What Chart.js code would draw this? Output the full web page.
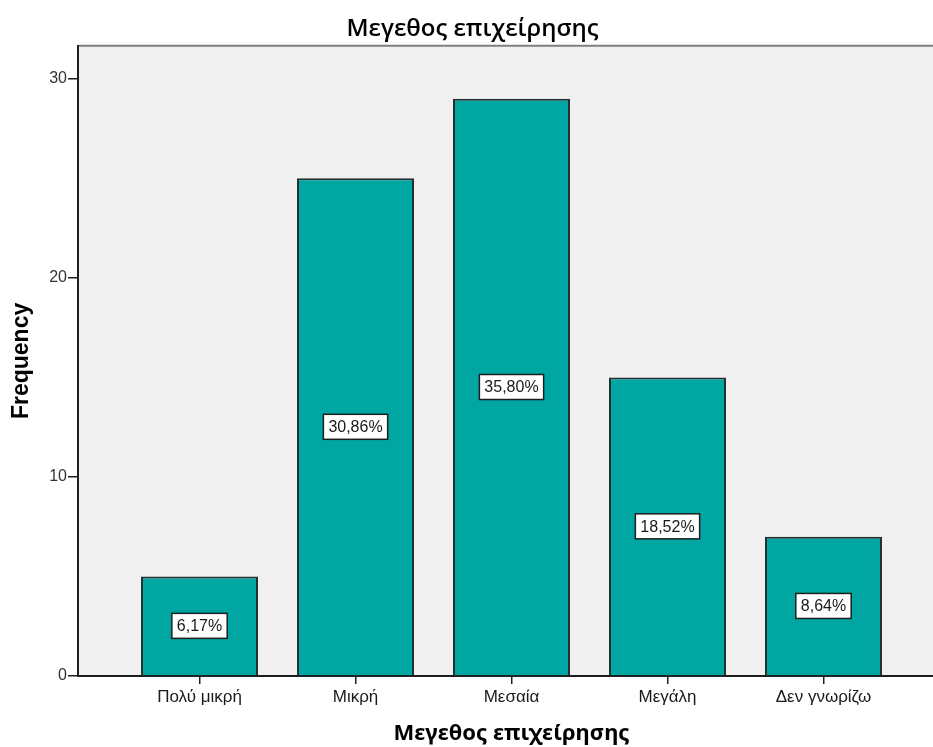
<!DOCTYPE html>
<html lang="el">
<head>
<meta charset="utf-8">
<title>Μεγεθος επιχείρησης</title>
<script src="https://cdn.jsdelivr.net/npm/chart.js@4.4.1/dist/chart.umd.min.js"></script>
<style>
    html, body { margin: 0; padding: 0; background: #fff; overflow: hidden; }
    #wrap { width: 945px; height: 747px; }
</style>
</head>
<body>
<div id="wrap"><canvas id="chart" width="945" height="747"></canvas></div>
<script>
// Frequencies per company size.
var categories = ['Πολύ μικρή', 'Μικρή', 'Μεσαία', 'Μεγάλη', 'Δεν γνωρίζω'];
var frequencies = [5, 25, 29, 15, 7];
var yTicks = [0, 10, 20, 30];

var TITLE = 'Μεγεθος επιχείρησης';
var Y_TITLE = 'Frequency';

var COLORS = {
    bar:      '#00a6a2',
    barEdge:  '#243030',
    plotBg:   '#f0f0f0',
    frame:    '#7f7f7f',
    axis:     '#1e1e1e',
    text:     '#1a1a1a',
    tickText: '#333333'
};

var total = frequencies.reduce(function (a, b) { return a + b; }, 0);

/**
 * Percentage of the total, written with a decimal comma.
 */
function pctLabel(value) {
    return (value / total * 100).toFixed(2).replace('.', ',') + '%';
}

// Grey plot background plus the thin frame line along the top.
var plotBackground = {
    id: 'plotBackground',
    beforeDraw: function (chart) {
        var a = chart.chartArea;
        var ctx = chart.ctx;
        ctx.save();
        ctx.fillStyle = COLORS.plotBg;
        ctx.fillRect(a.left, a.top, a.right - a.left, a.bottom - a.top);
        ctx.strokeStyle = COLORS.frame;
        ctx.lineWidth = 2;
        ctx.beginPath();
        ctx.moveTo(a.left, a.top);
        ctx.lineTo(a.right, a.top);
        ctx.stroke();
        ctx.restore();
    }
};

// Boxed percentage label in the middle of each bar.
var barLabels = {
    id: 'barLabels',
    afterDatasetsDraw: function (chart) {
        var ctx = chart.ctx;
        var meta = chart.getDatasetMeta(0);
        ctx.save();
        ctx.font = '16px "Liberation Sans", Arial, sans-serif';
        ctx.textAlign = 'center';
        ctx.textBaseline = 'middle';
        meta.data.forEach(function (bar, i) {
            var text = pctLabel(frequencies[i]);
            var cx = bar.x;
            var cy = (bar.y + bar.base) / 2;
            var w = ctx.measureText(text).width + 10;
            var h = 25;
            ctx.fillStyle = '#ffffff';
            ctx.fillRect(cx - w / 2, cy - h / 2, w, h);
            ctx.strokeStyle = COLORS.axis;
            ctx.lineWidth = 1.5;
            ctx.strokeRect(cx - w / 2, cy - h / 2, w, h);
            ctx.fillStyle = COLORS.text;
            ctx.fillText(text, cx, cy + 1);
        });
        ctx.restore();
    }
};

var points = frequencies.map(function (v, i) {
    return { x: i, y: v };
});

new Chart(document.getElementById('chart').getContext('2d'), {
    type: 'bar',
    data: {
        datasets: [{
            data: points,
            backgroundColor: COLORS.bar,
            borderColor: COLORS.barEdge,
            borderWidth: 2,
            categoryPercentage: 1,
            barPercentage: 0.75
        }]
    },
    options: {
        responsive: false,
        animation: false,
        events: [],
        layout: { padding: 0 },
        plugins: {
            legend: { display: false },
            tooltip: { enabled: false },
            title: {
                display: true,
                text: TITLE,
                color: '#000',
                font: { family: '"Open Sans", sans-serif', size: 24, weight: '600', lineHeight: 1.2 },
                padding: { top: 15, bottom: 2 }
            }
        },
        scales: {
            x: {
                type: 'linear',
                offset: false,
                min: -0.779,
                max: 4.779,
                afterFit: function (scale) { scale.height = 71; },
                afterBuildTicks: function (scale) {
                    scale.ticks = categories.map(function (c, i) { return { value: i }; });
                },
                ticks: {
                    autoSkip: false,
                    maxRotation: 0,
                    padding: 3,
                    color: COLORS.text,
                    font: { family: '"Liberation Sans", Arial, sans-serif', size: 17 },
                    callback: function (value) { return categories[value]; }
                },
                grid: {
                    offset: false,
                    drawOnChartArea: false,
                    drawTicks: true,
                    tickLength: 8,
                    color: COLORS.axis,
                    lineWidth: 1.5
                },
                border: { display: true, color: COLORS.axis, width: 2 },
                title: {
                    display: true,
                    text: TITLE,
                    color: '#000',
                    font: { family: '"Noto Sans", sans-serif', size: 22, weight: 'bold', lineHeight: 1.2 },
                    padding: { top: 0, bottom: 0 }
                }
            },
            y: {
                min: 0,
                max: 31.66,
                afterFit: function (scale) { scale.width = 78; },
                afterBuildTicks: function (scale) {
                    scale.ticks = yTicks.map(function (v) { return { value: v }; });
                },
                ticks: {
                    padding: 1,
                    color: COLORS.tickText,
                    font: { family: '"Liberation Sans", Arial, sans-serif', size: 16 }
                },
                grid: {
                    drawOnChartArea: false,
                    drawTicks: true,
                    tickLength: 10,
                    color: COLORS.axis,
                    lineWidth: 1.5
                },
                border: { display: true, color: COLORS.axis, width: 2 },
                title: {
                    display: true,
                    text: Y_TITLE,
                    color: '#000',
                    font: { family: '"Liberation Sans", Arial, sans-serif', size: 23, weight: 'bold', lineHeight: 1.2 },
                    padding: { top: 8, bottom: 0 }
                }
            }
        }
    },
    plugins: [plotBackground, barLabels]
});
</script>
</body>
</html>
